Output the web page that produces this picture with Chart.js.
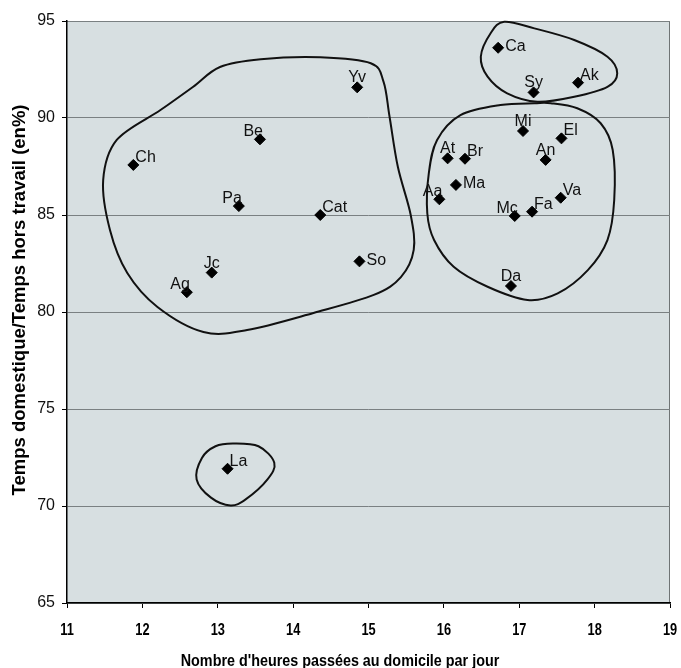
<!DOCTYPE html>
<html>
<head>
<meta charset="utf-8">
<script src="https://cdn.jsdelivr.net/npm/chart.js@4.4.0/dist/chart.umd.min.js"></script>
<style>
  html, body { margin: 0; padding: 0; background: #fff; }
  #wrap { width: 681px; height: 668px; }
</style>
</head>
<body>
<div id="wrap"><canvas id="grafico"></canvas></div>
<script>
// donnees
const noms = ['Ca', 'Sy', 'Ak', 'Mi', 'El', 'At', 'Br', 'An', 'Ma', 'Aa', 'Va', 'Fa', 'Mc', 'Da',
              'Yv', 'Be', 'Ch', 'Pa', 'Cat', 'So', 'Jc', 'Ag', 'La'];
const heures = [16.72, 17.19, 17.78, 17.05, 17.56, 16.05, 16.28, 17.35, 16.16, 15.94, 17.55, 17.17, 16.94, 16.89,
                14.85, 13.56, 11.88, 13.28, 14.36, 14.88, 12.92, 12.59, 13.13];
const tempsDom = [93.62, 91.32, 91.82, 89.33, 88.95, 87.92, 87.90, 87.84, 86.55, 85.81, 85.89, 85.17, 84.95, 81.34,
                  91.58, 88.90, 87.58, 85.46, 85.00, 82.61, 82.03, 81.02, 71.92];
const xTicks = [11, 12, 13, 14, 15, 16, 17, 18, 19];
const yTicks = [65, 70, 75, 80, 85, 90, 95];
const titreX = "Nombre d'heures passées au domicile par jour";
const titreY = 'Temps domestique/Temps hors travail (en%)';

// contours des groupes (en unites des axes)
const groupeGaucheX = [13.57, 14.36, 15.03, 15.20, 15.28, 15.39, 15.56, 15.60, 15.43, 15.07, 14.27, 13.39, 12.81, 12.20, 11.80, 11.57, 11.48, 11.66, 12.24, 12.67, 13.03];
const groupeGaucheY = [93.03, 93.13, 92.82, 91.86, 90.05, 87.47, 85.00, 83.20, 81.80, 80.88, 79.95, 79.07, 78.97, 80.26, 82.01, 84.23, 86.80, 88.87, 90.41, 91.60, 92.63];
const groupeDroitX = [17.20, 16.75, 16.22, 15.91, 15.80, 15.78, 15.87, 16.13, 16.58, 17.11, 17.51, 17.91, 18.17, 18.26, 18.24, 18.08, 17.77, 17.42];
const groupeDroitY = [90.76, 90.67, 90.15, 88.87, 87.15, 85.09, 83.71, 82.33, 81.30, 80.62, 80.96, 82.16, 83.71, 85.77, 88.35, 89.73, 90.50, 90.76];
const groupeHautX = [16.80, 16.62, 16.49, 16.58, 16.84, 17.24, 17.73, 18.17, 18.30, 18.17, 17.73, 17.20];
const groupeHautY = [94.96, 94.37, 93.16, 92.13, 91.27, 90.84, 91.10, 91.61, 92.30, 93.16, 94.02, 94.62];
const groupeLaX = [13.20, 13.54, 13.75, 13.66, 13.37, 13.17, 12.91, 12.72, 12.79, 12.97];
const groupeLaY = [73.22, 73.08, 72.23, 71.37, 70.34, 70.03, 70.43, 71.37, 72.48, 73.08];

// position de chaque etiquette par rapport au point
const placement = {
    Ca: 'r', Sy: 't', Ak: 'tr', Mi: 't', El: 'tr', At: 't', Br: 'tr', An: 't', Ma: 'r', Aa: 'tl',
    Va: 'tr', Fa: 'tr', Mc: 'tl', Da: 't', Yv: 't', Be: 'tl', Ch: 'tr', Pa: 'tl', Cat: 'tr', So: 'r',
    Jc: 't', Ag: 'tl', La: 'tr'
};

let points = [];
for (let i = 0; i < noms.length; i++) {
    points.push({ x: heures[i], y: tempsDom[i], nom: noms[i] });
}

const fond = {
    id: 'fond',
    beforeDraw(chart) {
        const a = chart.chartArea;
        const ctx = chart.ctx;
        ctx.save();
        ctx.fillStyle = '#d7dfe1';
        ctx.fillRect(a.left, a.top, a.right - a.left, a.bottom - a.top);
        ctx.strokeStyle = '#6f7475';
        ctx.lineWidth = 1;
        ctx.beginPath();
        ctx.moveTo(a.left, a.top + 0.5);
        ctx.lineTo(a.right - 0.5, a.top + 0.5);
        ctx.lineTo(a.right - 0.5, a.bottom);
        ctx.stroke();
        ctx.restore();
    }
};

function contour(chart, xs, ys) {
    const sx = chart.scales.x, sy = chart.scales.y;
    const p = xs.map((v, i) => [sx.getPixelForValue(v), sy.getPixelForValue(ys[i])]);
    const n = p.length;
    const ctx = chart.ctx;
    ctx.beginPath();
    ctx.moveTo(p[0][0], p[0][1]);
    for (let i = 0; i < n; i++) {
        const p0 = p[(i - 1 + n) % n], p1 = p[i], p2 = p[(i + 1) % n], p3 = p[(i + 2) % n];
        const c1x = p1[0] + (p2[0] - p0[0]) / 6, c1y = p1[1] + (p2[1] - p0[1]) / 6;
        const c2x = p2[0] - (p3[0] - p1[0]) / 6, c2y = p2[1] - (p3[1] - p1[1]) / 6;
        ctx.bezierCurveTo(c1x, c1y, c2x, c2y, p2[0], p2[1]);
    }
    ctx.closePath();
    ctx.stroke();
}

const groupes = {
    id: 'groupes',
    afterDatasetsDraw(chart) {
        const ctx = chart.ctx;
        ctx.save();
        ctx.strokeStyle = '#111';
        ctx.lineWidth = 2;
        contour(chart, groupeGaucheX, groupeGaucheY);
        contour(chart, groupeDroitX, groupeDroitY);
        contour(chart, groupeHautX, groupeHautY);
        contour(chart, groupeLaX, groupeLaY);
        ctx.restore();
    }
};

const etiquettes = {
    id: 'etiquettes',
    afterDatasetsDraw(chart) {
        const ctx = chart.ctx;
        const meta = chart.getDatasetMeta(0);
        ctx.save();
        ctx.font = '16px "Liberation Sans", Arial, sans-serif';
        ctx.fillStyle = '#111';
        meta.data.forEach((el, i) => {
            const nom = noms[i];
            const pos = placement[nom];
            let x = el.x, y = el.y;
            if (pos === 't') { ctx.textAlign = 'center'; ctx.textBaseline = 'alphabetic'; y -= 5; }
            if (pos === 'r') { ctx.textAlign = 'left'; ctx.textBaseline = 'middle'; x += 7; y -= 1; }
            if (pos === 'tr') { ctx.textAlign = 'left'; ctx.textBaseline = 'alphabetic'; x += 2; y -= 3; }
            if (pos === 'tl') { ctx.textAlign = 'right'; ctx.textBaseline = 'alphabetic'; x += 3; y -= 3; }
            ctx.fillText(nom, x, y);
        });
        ctx.restore();
    }
};

// textes des axes (police etroite et grasse, comme l'original)
const textesAxes = {
    id: 'textesAxes',
    afterDraw(chart) {
        const ctx = chart.ctx;
        const sx = chart.scales.x;
        ctx.save();
        ctx.fillStyle = '#000';
        ctx.textAlign = 'center';
        ctx.textBaseline = 'alphabetic';
        ctx.font = 'bold 16px "Liberation Sans", Arial, sans-serif';
        xTicks.forEach(v => {
            const px = sx.getPixelForValue(v);
            ctx.save();
            ctx.translate(px, 635);
            ctx.scale(0.8, 1);
            ctx.fillText(String(v), 0, 0);
            ctx.restore();
        });
        ctx.save();
        ctx.translate(340, 666);
        ctx.scale(0.87, 1);
        ctx.font = 'bold 16.5px "Liberation Sans", Arial, sans-serif';
        ctx.fillText(titreX, 0, 0);
        ctx.restore();
        ctx.save();
        ctx.translate(20, 300);
        ctx.rotate(-Math.PI / 2);
        ctx.textBaseline = 'middle';
        ctx.font = 'bold 18.5px "Liberation Sans", Arial, sans-serif';
        ctx.fillText(titreY, 0, 0);
        ctx.restore();
        ctx.restore();
    }
};

let opciones = {
    responsive: true,
    maintainAspectRatio: false,
    animation: false,
    layout: { padding: { top: 21, right: 11, left: 0, bottom: 0 } },
    plugins: { legend: { display: false }, tooltip: { enabled: false } },
    scales: {
        x: {
            type: 'linear',
            min: 11, max: 19,
            afterFit: (s) => { s.height = 65; },
            afterBuildTicks: (s) => { s.ticks = xTicks.map(v => ({ value: v })); },
            grid: { color: 'transparent', tickColor: '#000', tickLength: 5, drawOnChartArea: false },
            border: { color: '#000', width: 1.5 },
            ticks: { display: false }
        },
        y: {
            type: 'linear',
            min: 65, max: 95,
            afterFit: (s) => { s.width = 67; },
            afterBuildTicks: (s) => { s.ticks = yTicks.map(v => ({ value: v })); },
            grid: { color: '#7a8082', lineWidth: 1, tickColor: '#000', tickLength: 5 },
            border: { color: '#000', width: 1.5 },
            ticks: {
                color: '#111',
                padding: 7,
                font: { family: '"Liberation Sans", Arial', size: 16 }
            }
        }
    }
};

new Chart(document.getElementById('grafico').getContext('2d'), {
    type: 'scatter',
    data: {
        datasets: [{
            data: points,
            pointStyle: 'rectRot',
            pointRadius: 5.5,
            backgroundColor: '#000',
            borderColor: '#000',
            borderWidth: 1
        }]
    },
    options: opciones,
    plugins: [fond, groupes, etiquettes, textesAxes]
});
</script>
</body>
</html>
